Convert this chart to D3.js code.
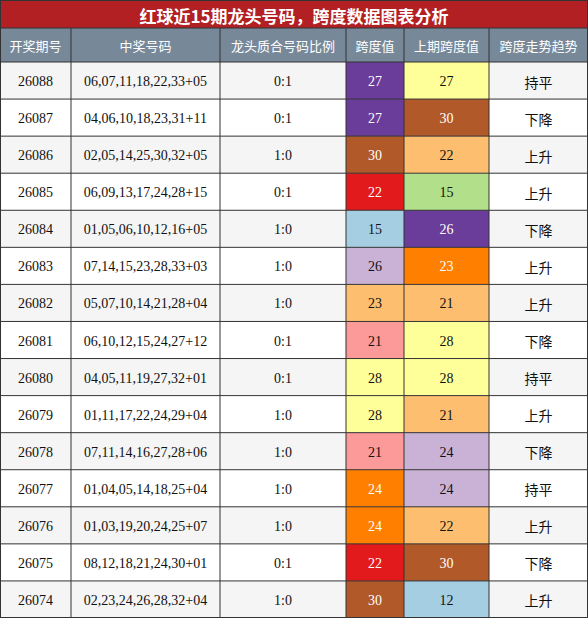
<!DOCTYPE html><html><head><meta charset="utf-8"><script src="https://cdn.jsdelivr.net/npm/d3@7"></script>
<style>body{margin:0;background:#fff}</style></head><body><svg id="c" width="588" height="618"></svg>
<script>
const title="红球近15期龙头号码，跨度数据图表分析";
const headers=["开奖期号","中奖号码","龙头质合号码比例","跨度值","上期跨度值","跨度走势趋势"];
const issues=["26088","26087","26086","26085","26084","26083","26082","26081","26080","26079","26078","26077","26076","26075","26074"];
const numbers=["06,07,11,18,22,33+05","04,06,10,18,23,31+11","02,05,14,25,30,32+05","06,09,13,17,24,28+15","01,05,06,10,12,16+05","07,14,15,23,28,33+03","05,07,10,14,21,28+04","06,10,12,15,24,27+12","04,05,11,19,27,32+01","01,11,17,22,24,29+04","07,11,14,16,27,28+06","01,04,05,14,18,25+04","01,03,19,20,24,25+07","08,12,18,21,24,30+01","02,23,24,26,28,32+04"];
const ratios=["0:1","0:1","1:0","0:1","1:0","1:0","1:0","0:1","0:1","1:0","1:0","1:0","1:0","0:1","1:0"];
const spans=[27,27,30,22,15,26,23,21,28,28,21,24,24,22,30];
const prevSpans=[27,30,22,15,26,23,21,28,28,21,24,24,22,30,12];
const trends=["持平","下降","上升","上升","下降","上升","上升","下降","持平","上升","下降","持平","上升","下降","上升"];
const spanCls=["purple","purple","brown","red","lblue","lav","lorange","pink","yellow","yellow","pink","orange","orange","red","brown"];
const prevCls=["yellow","brown","lorange","green","purple","orange","lorange","yellow","yellow","lorange","lav","lav","lorange","brown","lblue"];
const pal={purple:"#6a3d9a",brown:"#b15928",red:"#e31a1c",orange:"#ff7f00",lorange:"#fdbf6f",yellow:"#ffff99",green:"#b2df8a",lblue:"#a6cee3",lav:"#cab2d6",pink:"#fb9a99"};
const dark=new Set(["purple","brown","red","orange"]);
const svg=d3.select("#c");
const W=588,colEdges=[0,71,220,346,404,489,588];
const y=d3.scaleBand().domain(issues).range([62,618]);
const serif="'Liberation Serif','DejaVu Serif',serif",sans="'Noto Sans CJK SC',sans-serif";
svg.append("rect").attr("x",0).attr("y",0).attr("width",W).attr("height",28).attr("fill","#b22024");
svg.append("text").attr("x",W/2).attr("y",15).attr("text-anchor","middle").attr("dominant-baseline","central").attr("fill","#fff").attr("font-weight","bold").attr("font-size",17).attr("font-family",sans).text(title);
svg.append("rect").attr("x",0).attr("y",28).attr("width",W).attr("height",34).attr("fill","#778899");
headers.forEach((h,i)=>svg.append("text").attr("x",(colEdges[i]+colEdges[i+1])/2).attr("y",45).attr("text-anchor","middle").attr("dominant-baseline","central").attr("fill","#fff").attr("font-size",13).attr("font-family",sans).text(h));
issues.forEach((iss,r)=>{
  const y0=y(iss),h=y.bandwidth(),bg=r%2===0?"#f5f5f5":"#ffffff";
  const cells=[[iss,bg,"#111",serif],[numbers[r],bg,"#111",serif],[ratios[r],bg,"#111",serif],
    [spans[r],pal[spanCls[r]],dark.has(spanCls[r])?"#fff":"#111",serif],
    [prevSpans[r],pal[prevCls[r]],dark.has(prevCls[r])?"#fff":"#111",serif],
    [trends[r],bg,"#111",sans]];
  cells.forEach((c,i)=>{
    svg.append("rect").attr("x",colEdges[i]).attr("y",y0).attr("width",colEdges[i+1]-colEdges[i]).attr("height",h).attr("fill",c[1]);
    svg.append("text").attr("x",(colEdges[i]+colEdges[i+1])/2).attr("y",y0+h/2+1).attr("text-anchor","middle").attr("dominant-baseline","central").attr("fill",c[2]).attr("font-size",i===5?14:14).attr("font-family",c[3]).text(c[0]);
  });
});
const g=svg.append("g").attr("stroke","#333").attr("stroke-width",1);
colEdges.forEach(x=>{const xx=Math.min(Math.max(x,0.5),W-0.5);g.append("line").attr("x1",xx).attr("x2",xx).attr("y1",28).attr("y2",618);});
[0,28,62,...issues.map(i=>y(i)+y.bandwidth())].forEach(v=>{const yy=Math.min(Math.max(v,0.5),617.5);g.append("line").attr("x1",0).attr("x2",W).attr("y1",yy).attr("y2",yy);});
g.append("line").attr("x1",0.5).attr("x2",0.5).attr("y1",0).attr("y2",28);g.append("line").attr("x1",W-0.5).attr("x2",W-0.5).attr("y1",0).attr("y2",28);
</script></body></html>
